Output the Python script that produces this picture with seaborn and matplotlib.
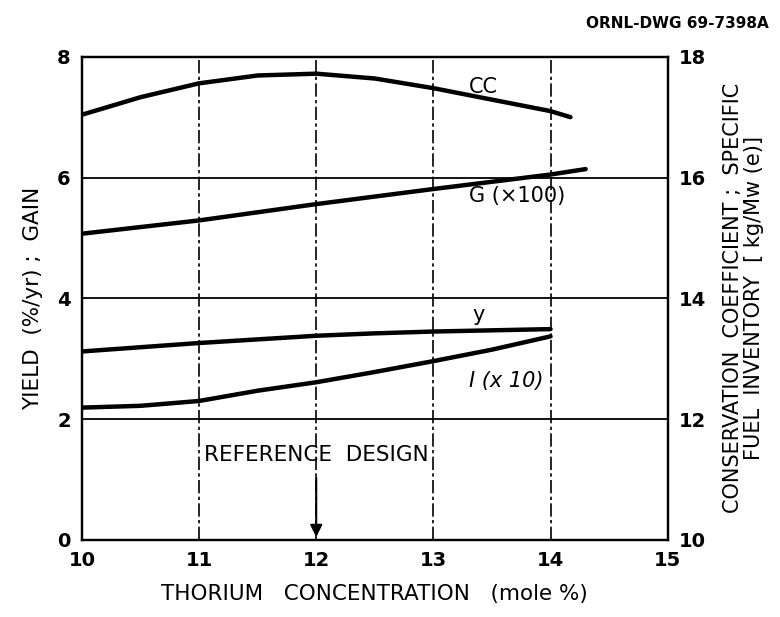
import matplotlib
matplotlib.use('Agg')
import matplotlib.pyplot as plt
import seaborn as sns

# ---- data ----
thorium = [10.0, 10.5, 11.0, 11.5, 12.0, 12.5, 13.0, 13.5, 14.0]
cc_x = [10.0, 10.5, 11.0, 11.5, 12.0, 12.5, 13.0, 13.5, 14.0, 14.17]
cc_vals = [17.04, 17.33, 17.56, 17.69, 17.72, 17.64, 17.48, 17.29, 17.10, 17.00]   # right axis
g_x = [10.0, 11.0, 12.0, 13.0, 14.0, 14.3]
g_vals = [5.07, 5.29, 5.56, 5.81, 6.05, 6.14]
y_vals = [3.12, 3.19, 3.26, 3.32, 3.38, 3.42, 3.45, 3.47, 3.49]
i_vals = [2.19, 2.22, 2.30, 2.47, 2.61, 2.78, 2.96, 3.15, 3.37]

x_ticks = [10, 11, 12, 13, 14, 15]
left_ticks = [0, 2, 4, 6, 8]
right_ticks = [10, 12, 14, 16, 18]

sns.set_style('white')
plt.rcParams['font.family'] = ['DejaVu Sans']
plt.rcParams['text.color'] = 'black'
plt.rcParams['axes.labelcolor'] = 'black'
plt.rcParams['xtick.color'] = 'black'
plt.rcParams['ytick.color'] = 'black'

fig = plt.figure(figsize=(7.8, 6.17), dpi=100)
ax = fig.add_axes([0.105, 0.125, 0.751, 0.783])
ax2 = ax.twinx()

line_kw = dict(color='black', linewidth=3.2)
sns.lineplot(x=thorium, y=y_vals, ax=ax, **line_kw)
sns.lineplot(x=thorium, y=i_vals, ax=ax, **line_kw)
sns.lineplot(x=g_x, y=g_vals, ax=ax, **line_kw)
sns.lineplot(x=cc_x, y=cc_vals, ax=ax2, **line_kw)

ax.set_xlim(10, 15)
ax.set_ylim(0, 8)
ax2.set_ylim(10, 18)
ax.set_xticks(x_ticks)
ax.set_yticks(left_ticks)
ax2.set_yticks(right_ticks)
ax.tick_params(length=0, labelsize=14, pad=8)
ax2.tick_params(length=0, labelsize=14, pad=8)
for lab in ax.get_xticklabels() + ax.get_yticklabels() + ax2.get_yticklabels():
    lab.set_fontweight('bold')

# grid: solid horizontals, broken verticals
for yv in left_ticks[1:-1]:
    ax.axhline(yv, color='black', linewidth=1.3, zorder=0)
for xv in x_ticks[1:-1]:
    ax.axvline(xv, color='black', linewidth=1.2, linestyle=(0, (8, 2, 2, 2)), zorder=0)

for a in (ax, ax2):
    for sp in a.spines.values():
        sp.set_color('black')
        sp.set_linewidth(1.6)

ax.set_xlabel('THORIUM   CONCENTRATION   (mole %)', fontsize=15.5, labelpad=10)
ax.set_ylabel('YIELD  (%/yr) ;  GAIN', fontsize=15.5, labelpad=10)
ax2.set_ylabel('CONSERVATION  COEFFICIENT ;  SPECIFIC\nFUEL  INVENTORY  [ kg/Mw (e)]',
               fontsize=15, rotation=90, labelpad=12, linespacing=1.05)

# curve labels
ax.text(13.3, 7.5, 'CC', fontsize=15, va='center')
ax.text(13.3, 5.7, 'G (×100)', fontsize=15, va='center')
ax.text(13.33, 3.73, 'y', fontsize=15, va='center')
ax.text(13.3, 2.63, 'I (x 10)', fontsize=15, va='center', style='italic')

# reference design marker
ax.text(12.0, 1.4, 'REFERENCE  DESIGN', fontsize=15.5, ha='center', va='center')
ax.annotate('', xy=(12.0, 0.0), xytext=(12.0, 1.08),
            arrowprops=dict(arrowstyle='-|>', color='black', lw=1.5, mutation_scale=18))

fig.text(0.985, 0.955, 'ORNL-DWG 69-7398A', fontsize=11, fontweight='bold', ha='right')

plt.savefig('out.png', dpi=100)
plt.close()
